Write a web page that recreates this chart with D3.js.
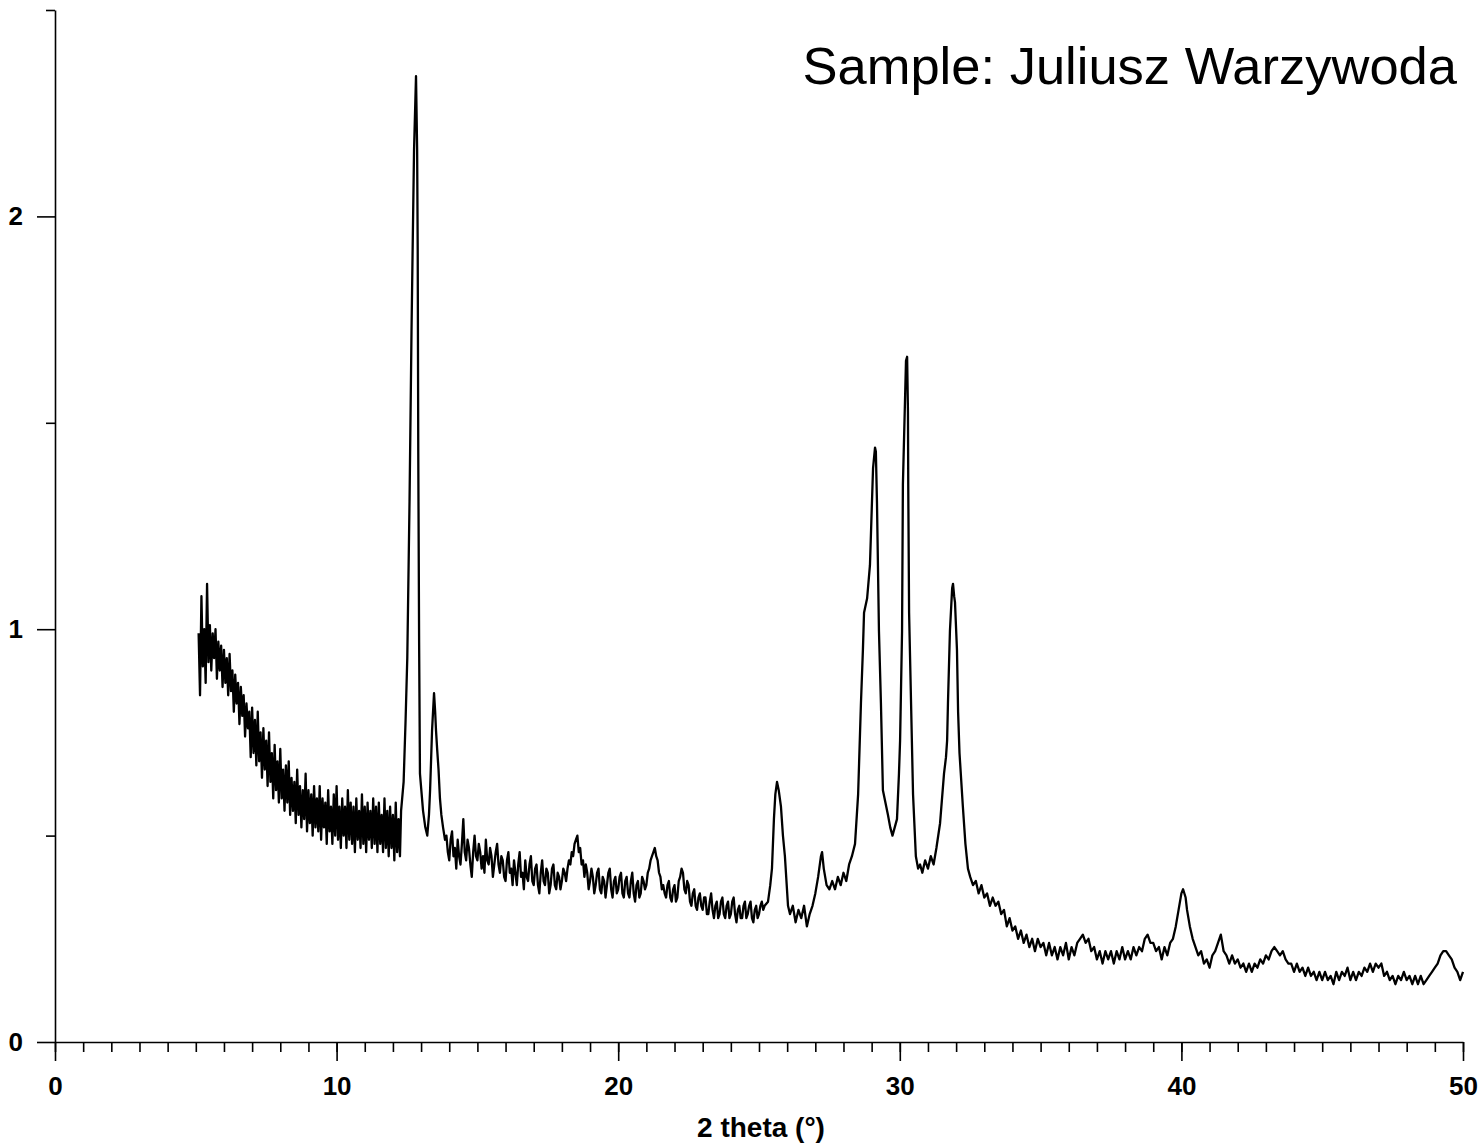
<!DOCTYPE html>
<html>
<head>
<meta charset="utf-8">
<script src="https://cdn.jsdelivr.net/npm/d3@7"></script>
<style>
  body { margin: 0; background: #fff; }
  svg { display: block; }
  text { font-family: "Liberation Sans", Arial, sans-serif; }
  .axis path, .axis line { stroke: #000; stroke-width: 1.6; }
  .axis text { font-size: 26px; font-weight: bold; fill: #000; }
</style>
</head>
<body>
<svg width="1482" height="1143"></svg>
<script>
// values: [2 theta (deg), intensity]
const lowAngle = [
  [5.10,0.99],[5.15,0.84],[5.20,1.08],[5.25,0.91],[5.30,1.00],[5.35,0.87],[5.40,1.11],[5.45,0.92],
  [5.50,1.01],[5.55,0.90],[5.60,0.99],[5.65,0.93],[5.70,1.00],[5.75,0.88],[5.80,0.97],[5.85,0.90],
  [5.90,0.96],[5.95,0.86],[6.00,0.95],[6.05,0.87],[6.10,0.93],[6.15,0.84],[6.20,0.94],[6.25,0.85],
  [6.30,0.90],[6.35,0.80],[6.40,0.89],[6.45,0.82],[6.50,0.87],[6.55,0.77],[6.60,0.86],[6.65,0.79],
  [6.70,0.84],[6.75,0.74],[6.80,0.82],[6.85,0.76],[6.90,0.80],[6.95,0.69],[7.00,0.81],[7.05,0.70],
  [7.10,0.78],[7.15,0.67],[7.20,0.80],[7.25,0.68],[7.30,0.75],[7.35,0.64],[7.40,0.76],[7.45,0.66],
  [7.50,0.73],[7.55,0.62],[7.60,0.75],[7.65,0.63],[7.70,0.70],[7.75,0.59],[7.80,0.72],[7.85,0.61],
  [7.90,0.68],[7.95,0.58],[8.00,0.71],[8.05,0.59],[8.10,0.66],[8.15,0.56],[8.20,0.67],[8.25,0.58],
  [8.30,0.68],[8.35,0.55],[8.40,0.64],[8.45,0.56],[8.50,0.63],[8.55,0.53],[8.60,0.66],[8.65,0.55],
  [8.70,0.62],[8.75,0.52],[8.80,0.61],[8.85,0.54],[8.90,0.65],[8.95,0.51],[9.00,0.61],[9.05,0.53],
  [9.10,0.60],[9.15,0.50],[9.20,0.62],[9.25,0.52],[9.30,0.59],[9.35,0.51],[9.40,0.62],[9.45,0.49],
  [9.50,0.59],[9.55,0.52],[9.60,0.58],[9.65,0.48],[9.70,0.61],[9.75,0.51],[9.80,0.57],[9.85,0.48],
  [9.90,0.60],[9.95,0.50],[10.00,0.62],[10.05,0.49],[10.10,0.57],[10.15,0.47],[10.20,0.59],[10.25,0.50],
  [10.30,0.57],[10.35,0.47],[10.40,0.61],[10.45,0.49],[10.50,0.58],[10.55,0.48],[10.60,0.57],[10.65,0.46],
  [10.70,0.59],[10.75,0.49],[10.80,0.56],[10.85,0.47],[10.90,0.60],[10.95,0.48],[11.00,0.57],[11.05,0.46],
  [11.10,0.58],[11.15,0.49],[11.20,0.56],[11.25,0.47],[11.30,0.59],[11.35,0.48],[11.40,0.57],[11.45,0.46],
  [11.50,0.58],[11.55,0.48],[11.60,0.55],[11.65,0.46],[11.70,0.59],[11.75,0.47],[11.80,0.56],[11.85,0.45],
  [11.90,0.57],[11.95,0.47],[12.00,0.55],[12.05,0.44],[12.10,0.58],[12.15,0.46],[12.20,0.54],[12.25,0.45]
];

const peaks13 = [
  [12.29,0.56],[12.38,0.63],[12.45,0.78],[12.51,0.93],[12.59,1.31],[12.66,1.72],[12.70,1.92],[12.75,2.16],
  [12.82,2.34],[12.86,2.16],[12.88,1.92],[12.90,1.43],[12.93,0.97],[12.96,0.65],[13.07,0.56],[13.15,0.52],
  [13.22,0.50],[13.28,0.55],[13.32,0.61],[13.39,0.755],[13.46,0.845],[13.50,0.80],[13.53,0.755],[13.57,0.71],
  [13.62,0.66],[13.67,0.59],[13.72,0.55],[13.78,0.52],[13.85,0.49]
];

const midAngle = [
  [13.90,0.50],[13.95,0.46],[14.00,0.44],[14.05,0.49],[14.10,0.51],[14.15,0.45],[14.20,0.47],[14.25,0.42],
  [14.30,0.49],[14.35,0.45],[14.40,0.43],[14.45,0.48],[14.50,0.54],[14.55,0.46],[14.60,0.44],[14.65,0.49],
  [14.70,0.47],[14.75,0.43],[14.80,0.40],[14.85,0.46],[14.90,0.50],[14.95,0.45],[15.00,0.44],[15.05,0.48],
  [15.10,0.46],[15.15,0.42],[15.20,0.45],[15.25,0.41],[15.30,0.49],[15.35,0.44],[15.40,0.43],[15.45,0.47],
  [15.50,0.45],[15.55,0.40],[15.60,0.43],[15.65,0.46],[15.70,0.48],[15.75,0.43],[15.80,0.41],[15.85,0.45],
  [15.90,0.44],[15.95,0.40],[16.00,0.39],[16.05,0.44],[16.10,0.46],[16.15,0.41],[16.20,0.42],[16.25,0.38],
  [16.30,0.44],[16.35,0.41],[16.40,0.38],[16.45,0.43],[16.50,0.46],[16.55,0.40],[16.60,0.41],[16.65,0.37],
  [16.70,0.44],[16.75,0.40],[16.80,0.39],[16.85,0.43],[16.90,0.45],[16.95,0.39],[17.00,0.38],[17.05,0.42],
  [17.10,0.43],[17.15,0.38],[17.20,0.36],[17.25,0.41],[17.30,0.44],[17.35,0.39],[17.40,0.38],[17.45,0.42],
  [17.50,0.41],[17.55,0.36],[17.60,0.38],[17.65,0.42],[17.70,0.43],[17.75,0.38],[17.80,0.37],[17.85,0.41],
  [17.90,0.40],[17.95,0.37],[18.00,0.39],[18.05,0.42],[18.10,0.41],[18.15,0.39],[18.20,0.42],[18.25,0.44],
  [18.30,0.43],[18.35,0.46],[18.40,0.45],[18.45,0.48],[18.50,0.49],[18.55,0.50],[18.60,0.46],[18.65,0.47],
  [18.70,0.43],[18.75,0.44],[18.80,0.40],[18.85,0.43],[18.90,0.41],[18.95,0.37],[19.00,0.39],[19.05,0.42],
  [19.10,0.40],[19.15,0.36],[19.20,0.38],[19.25,0.41],[19.30,0.42],[19.35,0.37],[19.40,0.36],[19.45,0.40],
  [19.50,0.39],[19.55,0.35],[19.60,0.38],[19.65,0.41],[19.70,0.42],[19.75,0.37],[19.80,0.35],[19.85,0.39],
  [19.90,0.40],[19.95,0.36],[20.00,0.37],[20.05,0.40],[20.10,0.41],[20.15,0.36],[20.20,0.35],[20.25,0.39],
  [20.30,0.40],[20.35,0.36],[20.40,0.35],[20.45,0.39],[20.50,0.41],[20.55,0.36],[20.60,0.34],[20.65,0.38],
  [20.70,0.39],[20.75,0.35],[20.80,0.36],[20.85,0.40],[20.90,0.39],[20.95,0.37],[21.00,0.38],[21.05,0.41],
  [21.10,0.42],[21.15,0.44],[21.20,0.45],[21.25,0.46],[21.30,0.47],[21.35,0.45],[21.40,0.44],[21.45,0.41],
  [21.50,0.40],[21.55,0.37],[21.60,0.38],[21.65,0.36],[21.70,0.35],[21.75,0.38],[21.80,0.39],[21.85,0.35],
  [21.90,0.34],[21.95,0.37],[22.00,0.38],[22.05,0.34],[22.10,0.35],[22.15,0.39],[22.20,0.40],[22.25,0.42],
  [22.30,0.41],[22.35,0.37],[22.40,0.36],[22.45,0.39],[22.50,0.38],[22.55,0.34],[22.60,0.33],[22.65,0.36],
  [22.70,0.37],[22.75,0.33],[22.80,0.32],[22.85,0.35],[22.90,0.36],[22.95,0.33],[23.00,0.32],[23.05,0.35],
  [23.10,0.35],[23.15,0.31],[23.20,0.31],[23.25,0.34],[23.30,0.36],[23.35,0.32],[23.40,0.30],[23.45,0.33],
  [23.50,0.34],[23.55,0.30],[23.60,0.31],[23.65,0.34],[23.70,0.35],[23.75,0.31],[23.80,0.30],[23.85,0.33],
  [23.90,0.34],[23.95,0.30],[24.00,0.31],[24.05,0.34],[24.10,0.35],[24.15,0.31],[24.20,0.29],[24.25,0.32],
  [24.30,0.33],[24.35,0.30],[24.40,0.30],[24.45,0.33],[24.50,0.34],[24.55,0.30],[24.60,0.31],[24.65,0.33],
  [24.70,0.34],[24.75,0.30],[24.80,0.29],[24.85,0.32],[24.90,0.33],[24.95,0.30],[25.00,0.31],[25.05,0.33],
  [25.10,0.34],[25.15,0.32],[25.20,0.33]
];

const peaks26to33 = [
  [25.32,0.34],[25.40,0.38],[25.46,0.42],[25.53,0.54],[25.58,0.60],[25.64,0.63],[25.70,0.61],[25.78,0.57],
  [25.85,0.50],[25.92,0.45],[26.03,0.33],[26.10,0.31],[26.20,0.33],[26.30,0.29],[26.40,0.32],[26.50,0.30],
  [26.60,0.33],[26.70,0.28],[26.80,0.31],[26.90,0.33],[27.00,0.36],[27.10,0.40],[27.20,0.45],[27.24,0.46],
  [27.30,0.42],[27.40,0.38],[27.50,0.37],[27.60,0.39],[27.70,0.37],[27.80,0.40],[27.90,0.38],[28.00,0.41],
  [28.10,0.39],[28.20,0.43],[28.30,0.45],[28.41,0.48],[28.52,0.60],[28.62,0.82],[28.69,0.95],[28.73,1.04],
  [28.84,1.075],[28.94,1.155],[29.05,1.39],[29.12,1.44],[29.15,1.43],[29.19,1.305],[29.26,0.995],[29.33,0.82],
  [29.40,0.61],[29.58,0.55],[29.66,0.52],[29.74,0.50],[29.82,0.52],[29.90,0.54],[29.97,0.65],[30.01,0.73],
  [30.08,0.995],[30.11,1.35],[30.22,1.65],[30.26,1.66],[30.29,1.525],[30.30,1.35],[30.33,1.04],[30.40,0.82],
  [30.47,0.60],[30.57,0.45],[30.65,0.42],[30.72,0.43],[30.80,0.41],[30.90,0.44],[31.00,0.42],[31.10,0.45],
  [31.20,0.43],[31.30,0.47],[31.43,0.53],[31.57,0.65],[31.64,0.69],[31.68,0.73],[31.71,0.82],[31.78,0.995],
  [31.86,1.10],[31.89,1.11],[31.93,1.08],[31.96,1.065],[32.03,0.95],[32.07,0.80],[32.12,0.70],[32.24,0.57],
  [32.33,0.48],[32.42,0.42],[32.50,0.40],[32.60,0.38],[32.70,0.39],[32.80,0.36],[32.90,0.38],[33.00,0.35],
  [33.10,0.36],[33.20,0.33]
];

const highAngle = [
  [33.30,0.35],[33.40,0.33],[33.50,0.34],[33.60,0.31],[33.70,0.32],[33.80,0.28],[33.90,0.30],[34.00,0.27],
  [34.10,0.28],[34.20,0.25],[34.30,0.27],[34.40,0.24],[34.50,0.26],[34.60,0.23],[34.70,0.25],[34.80,0.22],
  [34.90,0.25],[35.00,0.23],[35.10,0.24],[35.20,0.21],[35.30,0.24],[35.40,0.21],[35.50,0.23],[35.60,0.20],
  [35.70,0.23],[35.80,0.21],[35.90,0.24],[36.00,0.20],[36.10,0.23],[36.20,0.21],[36.30,0.24],[36.40,0.25],
  [36.50,0.26],[36.60,0.24],[36.70,0.25],[36.80,0.22],[36.90,0.23],[37.00,0.20],[37.10,0.22],[37.20,0.19],
  [37.30,0.22],[37.40,0.20],[37.50,0.22],[37.60,0.19],[37.70,0.22],[37.80,0.20],[37.90,0.23],[38.00,0.20],
  [38.10,0.22],[38.20,0.20],[38.30,0.23],[38.40,0.21],[38.50,0.23],[38.60,0.22],[38.70,0.25],[38.80,0.26],
  [38.90,0.24],[39.00,0.24],[39.10,0.22],[39.20,0.23],[39.30,0.20],[39.40,0.23],[39.50,0.21],[39.60,0.24],
  [39.70,0.25],[39.80,0.28],[39.90,0.32],[40.00,0.36],[40.06,0.37],[40.15,0.35],[40.20,0.32],[40.30,0.28],
  [40.40,0.25],[40.50,0.23],[40.60,0.21],[40.70,0.22],[40.80,0.19],[40.90,0.20],[41.00,0.18],[41.10,0.21],
  [41.20,0.22],[41.30,0.24],[41.40,0.26],[41.50,0.22],[41.60,0.21],[41.70,0.19],[41.80,0.21],[41.90,0.19],
  [42.00,0.20],[42.10,0.18],[42.20,0.19],[42.30,0.17],[42.40,0.19],[42.50,0.17],[42.60,0.19],[42.70,0.18],
  [42.80,0.20],[42.90,0.19],[43.00,0.21],[43.10,0.20],[43.20,0.22],[43.30,0.23],[43.40,0.22],[43.50,0.21],
  [43.60,0.22],[43.70,0.20],[43.80,0.19],[43.90,0.19],[44.00,0.17],[44.10,0.19],[44.20,0.17],[44.30,0.18],
  [44.40,0.16],[44.50,0.18],[44.60,0.16],[44.70,0.17],[44.80,0.15],[44.90,0.17],[45.00,0.15],[45.10,0.17],
  [45.20,0.15],[45.30,0.16],[45.40,0.14],[45.50,0.17],[45.60,0.15],[45.70,0.17],[45.80,0.16],[45.90,0.18],
  [46.00,0.15],[46.10,0.17],[46.20,0.15],[46.30,0.17],[46.40,0.16],[46.50,0.18],[46.60,0.17],[46.70,0.19],
  [46.80,0.17],[46.90,0.19],[47.00,0.18],[47.10,0.19],[47.20,0.16],[47.30,0.17],[47.40,0.15],[47.50,0.16],
  [47.60,0.14],[47.70,0.16],[47.80,0.15],[47.90,0.17],[48.00,0.15],[48.10,0.16],[48.20,0.14],[48.30,0.16],
  [48.40,0.14],[48.50,0.16],[48.60,0.14],[48.70,0.15],[48.80,0.16],[48.90,0.17],[49.00,0.18],[49.10,0.19],
  [49.20,0.21],[49.30,0.22],[49.40,0.22],[49.50,0.21],[49.60,0.20],[49.70,0.18],[49.80,0.17],[49.90,0.15],
  [50.00,0.17]
];

const xMajorTicks = [0, 10, 20, 30, 40, 50];
const yMajorTicks = [0, 1, 2];
const yMinorTicks = [0.5, 1.5, 2.5];
const titleText = "Sample: Juliusz Warzywoda";
const xLabel = "2 theta (\u00B0)";

const pattern = [...lowAngle, ...peaks13, ...midAngle, ...peaks26to33, ...highAngle];

const margin = { top: 10, right: 19, bottom: 101, left: 55 },
      width = 1482 - margin.left - margin.right,
      height = 1143 - margin.top - margin.bottom;

const svg = d3.select("svg")
  .append("g")
  .attr("transform", `translate(${margin.left},${margin.top})`);

const x = d3.scaleLinear().domain([0, 50]).range([0, width]);
const y = d3.scaleLinear().domain([0, 2.5]).range([height, 0]);

// x axis: minor ticks every degree, labelled majors every 10
svg.append("g")
  .attr("class", "axis")
  .attr("transform", `translate(0,${height})`)
  .call(d3.axisBottom(x).tickValues(d3.range(0, 51)).tickSize(10).tickSizeOuter(0).tickFormat(""));

svg.append("g")
  .attr("class", "axis")
  .attr("transform", `translate(0,${height})`)
  .call(d3.axisBottom(x).tickValues(xMajorTicks).tickSize(19).tickSizeOuter(0).tickPadding(16).tickFormat(d3.format("d")))
  .call(g => g.select(".domain").remove());

// y axis
svg.append("g")
  .attr("class", "axis")
  .call(d3.axisLeft(y).tickValues(yMinorTicks).tickSize(9).tickSizeOuter(0).tickFormat(""));

svg.append("g")
  .attr("class", "axis")
  .call(d3.axisLeft(y).tickValues(yMajorTicks).tickSize(18).tickSizeOuter(0).tickPadding(14).tickFormat(d3.format("d")))
  .call(g => g.select(".domain").remove());

// pattern line
const line = d3.line()
  .x(d => x(d[0]))
  .y(d => y(d[1]));

svg.append("path")
  .datum(pattern)
  .attr("fill", "none")
  .attr("stroke", "#000")
  .attr("stroke-width", 2.3)
  .attr("stroke-linejoin", "round")
  .attr("d", line);

// title and axis label
svg.append("text")
  .attr("x", 1457 - margin.left)
  .attr("y", 84 - margin.top)
  .attr("text-anchor", "end")
  .style("font-size", "52.5px")
  .text(titleText);

svg.append("text")
  .attr("x", width / 2 + 2)
  .attr("y", 1137 - margin.top)
  .attr("text-anchor", "middle")
  .style("font-size", "28px")
  .style("font-weight", "bold")
  .text(xLabel);
</script>
</body>
</html>
